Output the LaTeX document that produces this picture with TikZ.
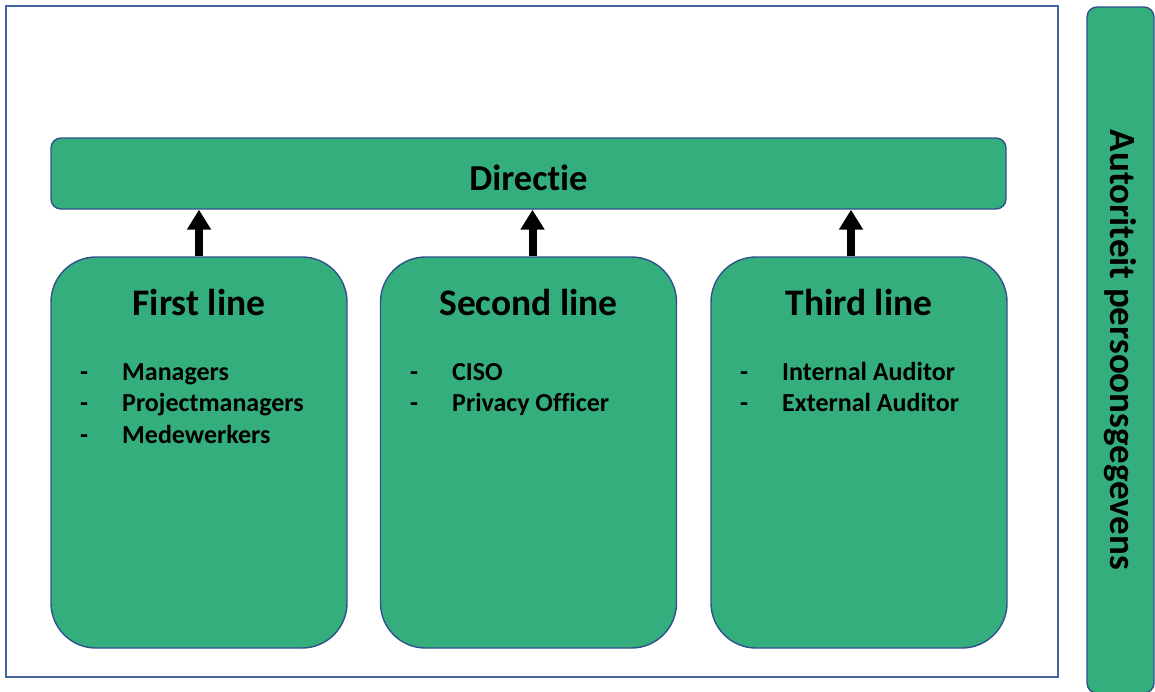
\documentclass[tikz,border=0pt]{standalone}
\usepackage{fontspec}
\setmainfont[Ligatures=NoCommon]{Carlito}
\usetikzlibrary{arrows.meta,positioning}

\definecolor{boxgreen}{RGB}{52,174,124}
\definecolor{edgeblue}{RGB}{47,82,143}
\definecolor{frameblue}{RGB}{68,100,158}

\begin{document}
\begin{tikzpicture}[x=1pt, y=-1pt,
    greenbox/.style={draw=edgeblue, line width=1.4pt, fill=boxgreen, inner sep=0pt},
    linebox/.style={greenbox, rounded corners=45pt, minimum width=296pt, minimum height=391pt},
    upto/.style={-{Triangle[width=23pt,length=20pt]}, line width=8pt},
    titletext/.style={font=\bfseries\fontsize{37.5}{45}\selectfont},
    listtext/.style={font=\bfseries\fontsize{26}{31}\selectfont, anchor=base west, inner sep=0pt}]

    % --- Canvas ---
    \useasboundingbox (0,0) rectangle (1155,691);

    % --- Outer frame ---
    \draw[frameblue, line width=1.6pt] (6,6) rectangle (1058,677);

    % --- Directie bar ---
    \node[greenbox, rounded corners=10pt, minimum width=955pt, minimum height=71pt] (directie) at (528.5,173.5) {};
    \node[titletext, font=\bfseries\fontsize{36.5}{44}\selectfont] at (528.5,178) {Directie};

    % --- Three lines ---
    \node[linebox] (first)  at (199,452.5) {};
    \node[linebox] (second) at (528.5,452.5) {};
    \node[linebox] (third)  at (859,452.5) {};

    \node[titletext] at (199,302)   {First line};
    \node[titletext] at (528.5,302) {Second line};
    \node[titletext] at (859,302)   {Third line};

    % --- Items ---
    \foreach \name [count=\i] in {Managers, Projectmanagers, Medewerkers} {
        \node[listtext] at (80,380+31.5*\i-31.5) {-};
        \node[listtext] at (122,380+31.5*\i-31.5) {\name};
    }
    \foreach \name [count=\i] in {CISO, Privacy Officer} {
        \node[listtext] at (410,380+31.5*\i-31.5) {-};
        \node[listtext] at (452,380+31.5*\i-31.5) {\name};
    }
    \foreach \name [count=\i] in {Internal Auditor, External Auditor} {
        \node[listtext] at (740,380+31.5*\i-31.5) {-};
        \node[listtext] at (782,380+31.5*\i-31.5) {\name};
    }

    % --- Arrows up to Directie ---
    \draw[upto] (first.north)  -- (first.north  |- directie.south);
    \draw[upto] ([xshift=4pt]second.north) -- ([xshift=4pt]second.north |- directie.south);
    \draw[upto] ([xshift=-8pt]third.north) -- ([xshift=-8pt]third.north |- directie.south);

    % --- Side bar ---
    \node[greenbox, rounded corners=10pt, rotate=-90, minimum width=686pt, minimum height=67pt,
          font=\bfseries\fontsize{37}{44}\selectfont] (autoriteit) at (1120.5,350) {Autoriteit persoonsgegevens};

\end{tikzpicture}
\end{document}
